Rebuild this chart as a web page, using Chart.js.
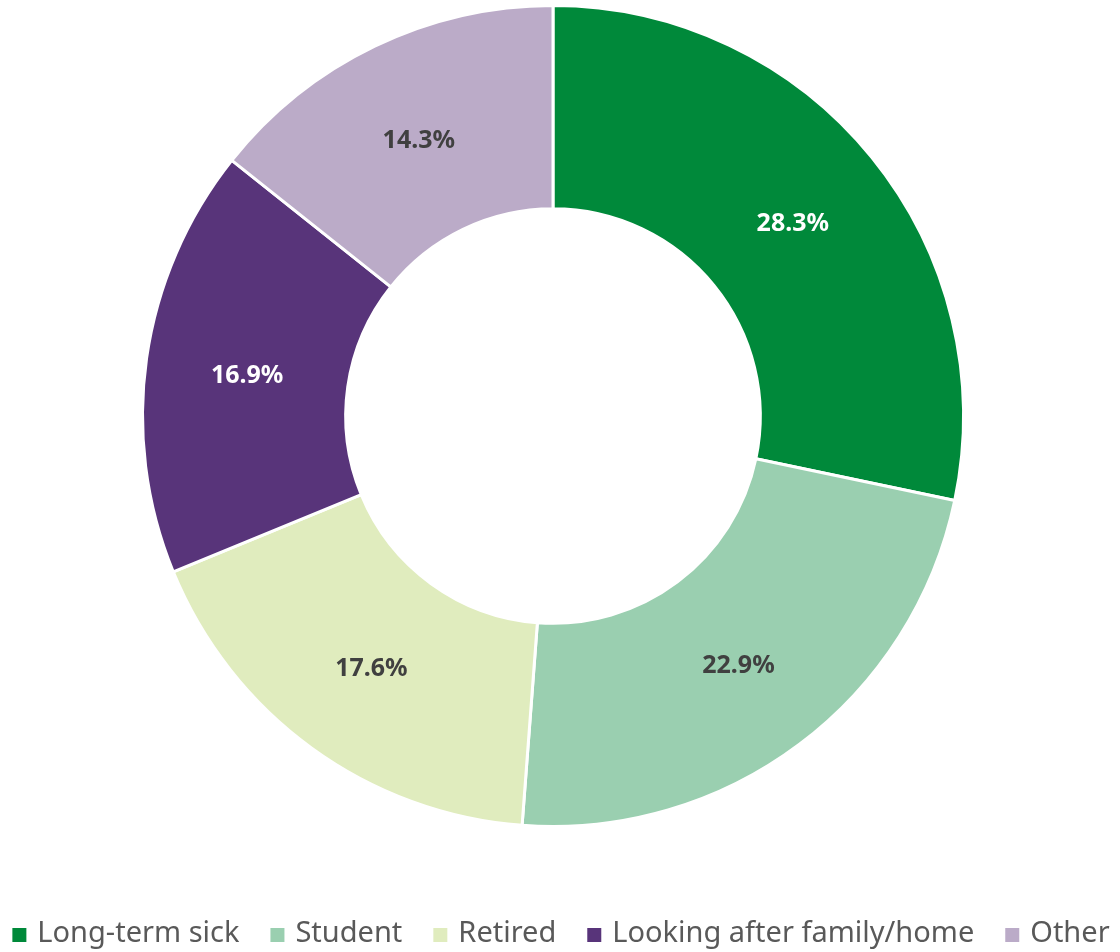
<!DOCTYPE html>
<html>
<head>
<meta charset="utf-8">
<script src="https://cdn.jsdelivr.net/npm/chart.js@4"></script>
<style>
  html, body { margin: 0; padding: 0; background: #fff; }
  #wrap { width: 1120px; height: 952px; }
</style>
</head>
<body>
<div id="wrap"><canvas id="econChart"></canvas></div>
<script>
const categories = ["Long-term sick", "Student", "Retired", "Looking after family/home", "Other"];
const shares = [28.3, 22.9, 17.6, 16.9, 14.3];
const sliceColours = ["#00893a", "#9acfb0", "#e0ecbe", "#58347a", "#bbabc8"];
const labelColours = ["#ffffff", "#404040", "#404040", "#ffffff", "#404040"];

// writes the percentage in the middle of each ring segment
const sliceLabels = {
    id: "sliceLabels",
    afterDatasetsDraw(chart) {
        const ctx = chart.ctx;
        const meta = chart.getDatasetMeta(0);
        ctx.save();
        ctx.font = "bold 25px 'Noto Sans'";
        ctx.textAlign = "center";
        ctx.textBaseline = "middle";
        meta.data.forEach((arc, i) => {
            const p = arc.tooltipPosition();
            ctx.fillStyle = labelColours[i];
            ctx.fillText(shares[i].toFixed(1) + "%", p.x, p.y + 3);
        });
        ctx.restore();
    }
};

// single-row legend along the bottom (the built-in one wraps at this size)
const rowLegend = {
    id: "rowLegend",
    afterDraw(chart) {
        const ctx = chart.ctx;
        const box = 14, gap = 11, spacing = 31, y = 935;
        ctx.save();
        ctx.font = "29px 'Noto Sans'";
        ctx.textBaseline = "middle";
        const widths = categories.map(c => ctx.measureText(c).width);
        let total = widths.reduce((a, w) => a + box + gap + w, 0) + spacing * (categories.length - 1);
        let x = chart.width / 2 - total / 2 + 1;
        categories.forEach((c, i) => {
            ctx.fillStyle = sliceColours[i];
            ctx.fillRect(x, y - box / 2, box, box);
            ctx.fillStyle = "#595959";
            ctx.fillText(c, x + box + gap, y - 1);
            x += box + gap + widths[i] + spacing;
        });
        ctx.restore();
    }
};

const ctx = document.getElementById("econChart").getContext("2d");

window.myChart = new Chart(ctx, {
    type: "doughnut",
    data: {
        labels: categories,
        datasets: [{
            data: shares,
            backgroundColor: sliceColours,
            borderColor: "#ffffff",
            borderWidth: 3
        }]
    },
    options: {
        responsive: true,
        maintainAspectRatio: false,
        animation: false,
        cutout: "50.5%",
        layout: {
            padding: { top: 4, right: 14, bottom: 124, left: 0 }
        },
        plugins: {
            tooltip: { enabled: false },
            legend: { display: false }
        }
    },
    plugins: [sliceLabels, rowLegend]
});
</script>
</body>
</html>
